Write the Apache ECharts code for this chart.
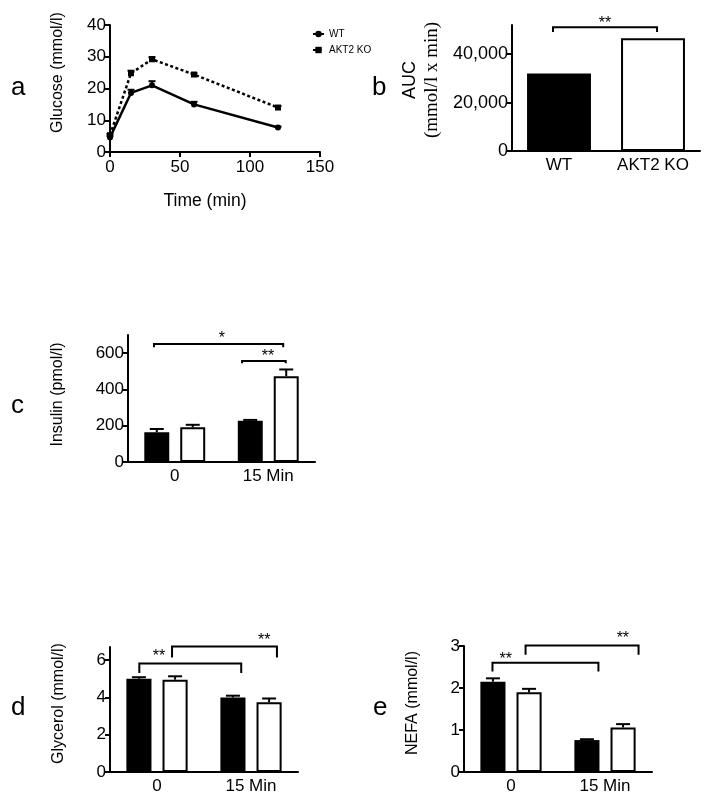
<!DOCTYPE html>
<html><head><meta charset="utf-8">
<script src="https://cdn.jsdelivr.net/npm/echarts@6/dist/echarts.min.js"></script>
<style>html,body{margin:0;padding:0;background:#fff}#c{width:714px;height:804px}</style>
</head><body><div id="c"></div>
<script>
// ---------- data ----------
// Panel a: glucose tolerance
const timePoints = [0, 15, 30, 60, 120];
const glucoseWT = [4.6, 18.6, 21.0, 15.0, 7.7];
const glucoseWTErr = [0.4, 1.0, 1.3, 0.8, 0.3];
const glucoseKO = [5.3, 24.8, 29.2, 24.4, 14.0];
const glucoseKOErr = [0.4, 0.8, 0.7, 0.4, 0.5];
const glucoseTicks = [0, 10, 20, 30, 40];
const timeTicks = [0, 50, 100, 150];
// Panel b: AUC
const aucGroups = ['WT', 'AKT2 KO'];
const aucValues = [32000, 46500];
const aucTicks = [0, 20000, 40000];
// Panels c-e
const timeGroups = ['0', '15 Min'];
const insulinWT = [164, 227];
const insulinWTErr = [18, 5];
const insulinKO = [191, 473];
const insulinKOErr = [14, 37];
const insulinTicks = [0, 200, 400, 600];
const glycerolWT = [5.0, 3.99];
const glycerolWTErr = [0.08, 0.1];
const glycerolKO = [4.95, 3.74];
const glycerolKOErr = [0.18, 0.2];
const glycerolTicks = [0, 2, 4, 6];
const nefaWT = [2.15, 0.76];
const nefaWTErr = [0.08, 0.02];
const nefaKO = [1.90, 1.06];
const nefaKOErr = [0.08, 0.08];
const nefaTicks = [0, 1, 2, 3];
// significance brackets: [x1, x2, yBar, yEnd1, yEnd2, xLabel, yLabel] (x in category units 0..2)
const aucBrackets = [[0.436, 1.543, 51100, 49100, 49100, 0.99, 53900]];
const aucBracketLabels = ['**'];
const insulinBrackets = [[0.278, 1.66, 650, 633, 633, 1.005, 694], [1.22, 1.687, 557, 544, 544, 1.497, 600]];
const insulinBracketLabels = ['*', '**'];
const glycerolBrackets = [[0.312, 1.396, 5.82, 5.31, 5.31, 0.52, 6.35], [0.66, 1.776, 6.73, 6.14, 6.14, 1.64, 7.19]];
const glycerolBracketLabels = ['**', '**'];
const nefaBrackets = [[0.303, 1.43, 2.60, 2.39, 2.39, 0.445, 2.74], [0.655, 1.857, 3.01, 2.79, 2.79, 1.69, 3.24]];
const nefaBracketLabels = ['**', '**'];

// ---------- layout / style ----------
const FONT = 'Liberation Sans, Arial, Helvetica, sans-serif';
const SERIF = 'Liberation Serif, Times New Roman, serif';
const TICK_FS = 17;
const BAR_W = 0.267, BAR_GAP = 0.44;
const BAR_OFF = BAR_W * (1 + BAR_GAP) / 2;

function fmtThousands(v){ return String(v).replace(/\B(?=(\d{3})+(?!\d))/g, ','); }

function errRender(cap){
  return function(params, api){
    const x = api.value(0), y = api.value(1), e = api.value(2);
    const p0 = api.coord([x, y]), p1 = api.coord([x, y + e]);
    return {type:'group', children:[
      {type:'line', shape:{x1:p0[0], y1:p0[1], x2:p1[0], y2:p1[1]}, style:{stroke:'#000', lineWidth:2}},
      {type:'line', shape:{x1:p1[0]-cap/2, y1:p1[1], x2:p1[0]+cap/2, y2:p1[1]}, style:{stroke:'#000', lineWidth:2}}
    ]};
  };
}
function bracketRender(labels){
  return function(params, api){
    const a = api.coord([api.value(0), api.value(3)]);
    const b = api.coord([api.value(0), api.value(2)]);
    const c = api.coord([api.value(1), api.value(2)]);
    const d = api.coord([api.value(1), api.value(4)]);
    const t = api.coord([api.value(5), api.value(6)]);
    return {type:'group', children:[
      {type:'polyline', shape:{points:[a, b, c, d]}, style:{stroke:'#000', lineWidth:2, fill:null}},
      {type:'text', x:t[0], y:t[1] + 3, style:{text:labels[params.dataIndex], align:'center', verticalAlign:'middle', fontSize:16, fontFamily:FONT, fill:'#000'}}
    ]};
  };
}
function errData(xs, vals, errs){ return vals.map((v, i) => [xs[i], v, errs[i]]); }

function valueY(gridIndex, max, ticks, name, gap, shift, extra){
  return Object.assign({
    type:'value', gridIndex, min:0, max,
    name, nameLocation:'middle', nameGap:gap,
    nameTextStyle:{fontSize:16, fontFamily:FONT, color:'#000', padding:[0,0,0,shift*2]},
    axisLine:{show:true, lineStyle:{color:'#000', width:2}},
    axisTick:{show:true, length:5, lineStyle:{color:'#000', width:2}, customValues:ticks},
    axisLabel:{fontSize:TICK_FS, fontFamily:FONT, color:'#000', margin:4, customValues:ticks},
    splitLine:{show:false}
  }, extra || {});
}
function catX(gridIndex, cats){
  return {type:'category', gridIndex, data:cats,
    axisLine:{show:true, lineStyle:{color:'#000', width:2}},
    axisTick:{show:false},
    axisLabel:{fontSize:TICK_FS, fontFamily:FONT, color:'#000', margin:6},
    splitLine:{show:false}};
}
function hiddenX(gridIndex){
  return {type:'value', gridIndex, min:0, max:2, show:false, splitLine:{show:false}};
}
const koStyle = {color:'#fff', borderColor:'#000', borderWidth:2};
const wtStyle = {color:'#000'};

function groupedPanel(xCat, xHid, yIdx, wt, wtErr, ko, koErr, brackets, labels, tag){
  const xsWT = wt.map((_, i) => i + 0.5 - BAR_OFF);
  const xsKO = ko.map((_, i) => i + 0.5 + BAR_OFF);
  return [
    {type:'bar', name:'WT '+tag, xAxisIndex:xCat, yAxisIndex:yIdx, data:wt, barWidth:(BAR_W*100)+'%', barGap:(BAR_GAP*100)+'%', itemStyle:wtStyle, silent:true},
    {type:'bar', name:'KO '+tag, xAxisIndex:xCat, yAxisIndex:yIdx, data:ko, barWidth:(BAR_W*100)+'%', barGap:(BAR_GAP*100)+'%', itemStyle:koStyle, silent:true},
    {type:'custom', xAxisIndex:xHid, yAxisIndex:yIdx, renderItem:errRender(14), data:errData(xsWT, wt, wtErr), z:5, silent:true},
    {type:'custom', xAxisIndex:xHid, yAxisIndex:yIdx, renderItem:errRender(14), data:errData(xsKO, ko, koErr), z:5, silent:true},
    {type:'custom', xAxisIndex:xHid, yAxisIndex:yIdx, renderItem:bracketRender(labels), data:brackets, z:5, silent:true, clip:false}
  ];
}

const option = {
  backgroundColor:'#fff',
  animation:false,
  textStyle:{fontFamily:FONT},
  grid:[
    {left:110, top:25, width:210, height:127},
    {left:512, top:25, width:188, height:126},
    {left:128, top:335, width:187, height:127},
    {left:110, top:647, width:188, height:125},
    {left:464, top:646, width:188, height:126}
  ],
  legend:{
    data:['WT','AKT2 KO'], orient:'vertical', left:307, top:24,
    itemWidth:11, itemHeight:8, itemGap:6,
    textStyle:{fontSize:10, fontFamily:FONT, color:'#000'}
  },
  xAxis:[
    {type:'value', gridIndex:0, min:0, max:150, interval:50,
      name:'Time (min)', nameLocation:'middle', nameGap:40,
      nameTextStyle:{fontSize:17.5, fontFamily:FONT, color:'#000', padding:[0,20,0,0]},
      axisLine:{show:true, onZero:false, lineStyle:{color:'#000', width:2}},
      axisTick:{show:true, length:5, lineStyle:{color:'#000', width:2}, customValues:timeTicks},
      axisLabel:{fontSize:TICK_FS, fontFamily:FONT, color:'#000', margin:7, customValues:timeTicks},
      splitLine:{show:false}},
    catX(1, aucGroups), hiddenX(1),
    catX(2, timeGroups), hiddenX(2),
    catX(3, timeGroups), hiddenX(3),
    catX(4, timeGroups), hiddenX(4)
  ],
  yAxis:[
    valueY(0, 40, glucoseTicks, 'Glucose (mmol/l)', 44, 16),
    valueY(1, 52000, aucTicks, '{a|AUC}\n{b|(mmol/l x min)}', 69, 8, {
      axisLabel:{fontSize:18, fontFamily:FONT, color:'#000', margin:4, customValues:aucTicks, formatter:fmtThousands},
      nameTextStyle:{padding:[0,0,0,16], color:'#000', rich:{
        a:{fontSize:18, fontFamily:FONT, color:'#000', lineHeight:22},
        b:{fontSize:19, fontFamily:SERIF, color:'#000', lineHeight:22}
      }}
    }),
    valueY(2, 700, insulinTicks, 'Insulin (pmol/l)', 62, 4),
    valueY(3, 6.7, glycerolTicks, 'Glycerol (mmol/l)', 43, 6),
    valueY(4, 3, nefaTicks, 'NEFA (mmol/l)', 43, 6)
  ],
  graphic:[
    {type:'text', x:11, y:88, style:{text:'a', fontSize:26, fontFamily:FONT, fill:'#000', verticalAlign:'middle'}},
    {type:'text', x:372, y:88, style:{text:'b', fontSize:26, fontFamily:FONT, fill:'#000', verticalAlign:'middle'}},
    {type:'text', x:11, y:406, style:{text:'c', fontSize:26, fontFamily:FONT, fill:'#000', verticalAlign:'middle'}},
    {type:'text', x:11, y:708, style:{text:'d', fontSize:26, fontFamily:FONT, fill:'#000', verticalAlign:'middle'}},
    {type:'text', x:373, y:708, style:{text:'e', fontSize:26, fontFamily:FONT, fill:'#000', verticalAlign:'middle'}}
  ],
  series:[
    {type:'line', name:'WT', xAxisIndex:0, yAxisIndex:0, data:timePoints.map((t,i)=>[t, glucoseWT[i]]),
      symbol:'circle', symbolSize:6, itemStyle:{color:'#000'}, lineStyle:{color:'#000', width:2.5}, z:3},
    {type:'line', name:'AKT2 KO', xAxisIndex:0, yAxisIndex:0, data:timePoints.map((t,i)=>[t, glucoseKO[i]]),
      symbol:'rect', symbolSize:6, itemStyle:{color:'#000'}, lineStyle:{color:'#000', width:2.5, type:[3,2.5]}, z:3},
    {type:'custom', xAxisIndex:0, yAxisIndex:0, renderItem:errRender(7), data:errData(timePoints, glucoseWT, glucoseWTErr), z:4, silent:true},
    {type:'custom', xAxisIndex:0, yAxisIndex:0, renderItem:errRender(7), data:errData(timePoints, glucoseKO, glucoseKOErr), z:4, silent:true},
    {type:'bar', name:'AUC', xAxisIndex:1, yAxisIndex:1, barWidth:'68%', silent:true,
      data:aucValues.map((v,i)=>({value:v, itemStyle: i===0 ? wtStyle : koStyle}))},
    {type:'custom', xAxisIndex:2, yAxisIndex:1, renderItem:bracketRender(aucBracketLabels), data:aucBrackets, z:5, silent:true, clip:false}
  ]
    .concat(groupedPanel(3, 4, 2, insulinWT, insulinWTErr, insulinKO, insulinKOErr, insulinBrackets, insulinBracketLabels, 'insulin'))
    .concat(groupedPanel(5, 6, 3, glycerolWT, glycerolWTErr, glycerolKO, glycerolKOErr, glycerolBrackets, glycerolBracketLabels, 'glycerol'))
    .concat(groupedPanel(7, 8, 4, nefaWT, nefaWTErr, nefaKO, nefaKOErr, nefaBrackets, nefaBracketLabels, 'nefa'))
};
const chart = echarts.init(document.getElementById('c'), null, {renderer:'canvas'});
chart.setOption(option);
</script>
</body></html>
